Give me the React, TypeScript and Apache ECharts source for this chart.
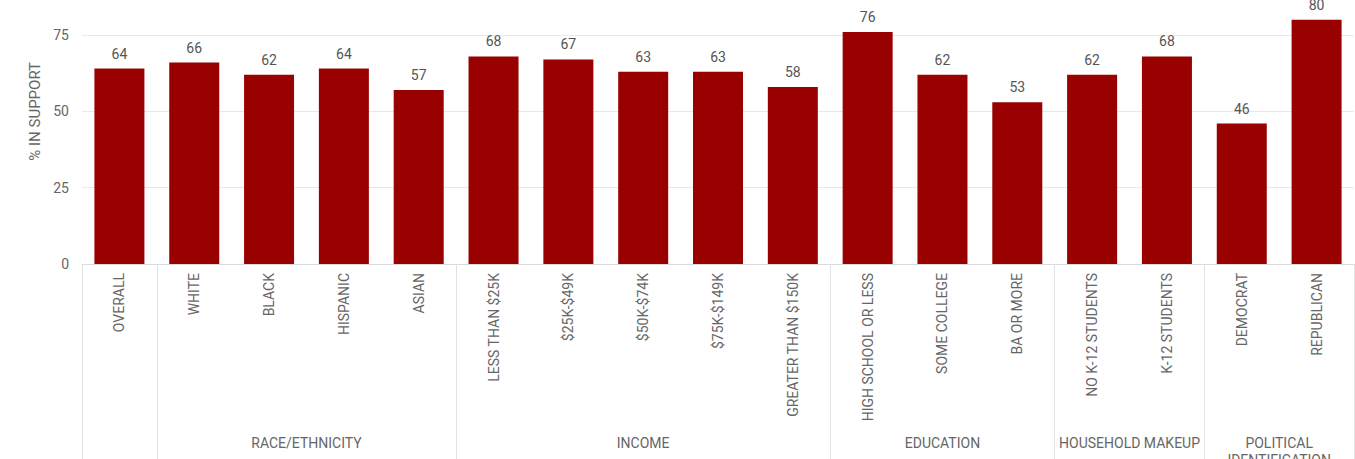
import React, { useEffect, useRef } from "react";
import * as echarts from "echarts";

const categories = [
  "OVERALL",
  "WHITE",
  "BLACK",
  "HISPANIC",
  "ASIAN",
  "LESS THAN $25K",
  "$25K-$49K",
  "$50K-$74K",
  "$75K-$149K",
  "GREATER THAN $150K",
  "HIGH SCHOOL OR LESS",
  "SOME COLLEGE",
  "BA OR MORE",
  "NO K-12 STUDENTS",
  "K-12 STUDENTS",
  "DEMOCRAT",
  "REPUBLICAN",
];

const supportValues = [64, 66, 62, 64, 57, 68, 67, 63, 63, 58, 76, 62, 53, 62, 68, 46, 80];

const groupNames = ["", "RACE/ETHNICITY", "INCOME", "EDUCATION", "HOUSEHOLD MAKEUP", "POLITICAL\nIDENTIFICATION"];
const groupSizes = [1, 4, 5, 3, 2, 2];

const yTicks = [0, 25, 50, 75, 100];

export default function App() {
  const ref = useRef<HTMLDivElement>(null);

  useEffect(() => {
    if (!ref.current) return;
    const chart = echarts.init(ref.current, null, { renderer: "svg" });

    const boundaryIdx: number[] = [];
    const centerMap: Record<string, string> = {};
    let start = 0;
    groupSizes.forEach((size, i) => {
      boundaryIdx.push(start);
      const center = start + (size - 1) / 2;
      centerMap[String(Math.round(center * 2) / 2)] = groupNames[i];
      start += size;
    });

    const font = "Roboto, 'Noto Sans', sans-serif";
    const textColor = "#666666";

    chart.setOption({
      animation: false,
      textStyle: { fontFamily: font },
      grid: {
        left: 82,
        right: 1,
        top: -41.3,
        bottom: 195,
        containLabel: false,
        outerBoundsMode: "none",
      },
      xAxis: [
        {
          type: "category",
          data: categories,
          axisLine: { show: true, lineStyle: { color: "#dcdcdc", width: 1 } },
          axisTick: {
            show: true,
            interval: (index: number) => boundaryIdx.indexOf(index) >= 0,
            length: 200,
            lineStyle: { color: "#e2e2e2", width: 1 },
          },
          axisLabel: {
            interval: 0,
            rotate: 90,
            margin: 9,
            fontSize: 14,
            color: textColor,
            fontFamily: font,
          },
          splitLine: { show: false },
        },
        {
          type: "value",
          position: "bottom",
          min: -0.5,
          max: 16.5,
          interval: 0.5,
          axisLine: { show: false },
          axisTick: { show: false },
          splitLine: { show: false },
          axisLabel: {
            margin: 170,
            fontSize: 14,
            lineHeight: 17,
            color: textColor,
            fontFamily: font,
            showMinLabel: true,
            showMaxLabel: true,
            formatter: (v: number) => centerMap[String(Math.round(v * 2) / 2)] || "",
          },
        },
      ],
      yAxis: {
        type: "value",
        min: yTicks[0],
        max: yTicks[yTicks.length - 1],
        interval: 25,
        name: "% IN SUPPORT",
        nameLocation: "middle",
        nameGap: 40,
        nameTextStyle: { color: textColor, fontSize: 15, fontFamily: font },
        axisLine: { show: false },
        axisTick: { show: false },
        axisLabel: {
          color: textColor,
          fontSize: 14,
          margin: 13,
          fontFamily: font,
          showMaxLabel: false,
        },
        splitLine: { lineStyle: { color: "#e8e8e8", width: 1 } },
      },
      series: [
        {
          type: "bar",
          data: supportValues,
          xAxisIndex: 0,
          barWidth: 50,
          itemStyle: { color: "#990000" },
          label: {
            show: true,
            position: "top",
            distance: 8,
            color: "#555555",
            fontSize: 14,
            fontFamily: font,
          },
        },
      ],
    });

    return () => {
      chart.dispose();
    };
  }, []);

  return (
    <div
      ref={ref}
      style={{ position: "absolute", left: 0, top: 0, width: 1355, height: 459, background: "#ffffff" }}
    />
  );
}
